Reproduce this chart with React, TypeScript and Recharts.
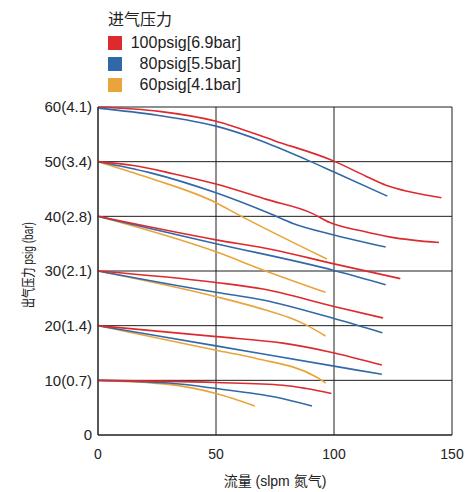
import React from "react";
import { CartesianGrid, Line, LineChart, XAxis, YAxis } from "recharts";

// flow (slpm) vs outlet pressure (psig)
type Pt = { x: number; y: number };
const pts = (rows: number[][]): Pt[] => rows.map(([x, y]) => ({ x, y }));

const red60 = pts([[0, 60], [26, 59.2], [50, 57.4], [75, 53.8], [100, 50.1], [113.7, 47.3], [122, 45.7], [132, 44.5], [145.5, 43.4]]);
const blue60 = pts([[0, 59.8], [25, 58.5], [50, 56.5], [89.7, 50.1], [100, 48.1], [122.6, 43.7]]);

const red50 = pts([[0, 50], [15, 49.3], [31.8, 47.8], [50, 45.9], [71.4, 43.1], [91, 40.5], [98, 38.9], [112, 37.3], [124, 36.2], [144.5, 35.2]]);
const blue50 = pts([[0, 50], [21.9, 48], [50, 44.3], [72.8, 40.5], [82.6, 38.7], [100, 36.6], [121.9, 34.4]]);
const orange50 = pts([[0, 50], [21.9, 47], [50, 42.5], [58.6, 40.5], [97, 32.2]]);

const red40 = pts([[0, 40], [50, 35.7], [74.2, 33.9], [100, 31.3], [128.1, 28.6]]);
const blue40 = pts([[0, 40], [50, 35], [100, 30.1], [121.9, 27.5]]);
const orange40 = pts([[0, 40], [50, 33.5], [69.9, 30.2], [96.4, 26.1]]);

const red30 = pts([[0, 30], [50, 27.9], [69.9, 26.7], [100, 23.5], [120.8, 21.4]]);
const blue30 = pts([[0, 30], [50, 26.1], [69.9, 24.7], [100, 21.3], [120.5, 18.7]]);
const orange30 = pts([[0, 30], [50, 25.3], [71.4, 22.8], [82.6, 21.2], [88.3, 20.1], [96.4, 18.1]]);

const red20 = pts([[0, 20], [50.2, 18], [78.4, 16.8], [98.2, 15.2], [120.3, 12.8]]);
const blue20 = pts([[0, 20], [50, 16.3], [100, 12.6], [120.3, 11.1]]);
const orange20 = pts([[0, 20], [50, 15.5], [67.1, 14], [92.5, 10.6], [96.5, 9.5]]);

const red10 = pts([[0, 10], [50, 9.6], [78.4, 9.1], [88.3, 8.5], [98.9, 7.6]]);
const blue10 = pts([[0, 10], [30, 9.5], [50, 8.5], [75.6, 6.9], [90.7, 5.3]]);
const orange10 = pts([[0, 10], [29, 9.3], [50, 7.6], [66.5, 5.3]]);

const xTicks = [0, 50, 100, 150];
const yTicks = [0, 10, 20, 30, 40, 50, 60];
const yTickLabels: Record<number, string> = {
  0: "0",
  10: "10(0.7)",
  20: "20(1.4)",
  30: "30(2.1)",
  40: "40(2.8)",
  50: "50(3.4)",
  60: "60(4.1)",
};

const RED = "#dc2a2e";
const BLUE = "#3169a8";
const ORANGE = "#e9a43b";

const legendTitle = "进气压力";
const legendItems = [
  { label: "100psig[6.9bar]", color: RED },
  { label: "80psig[5.5bar]", color: BLUE },
  { label: "60psig[4.1bar]", color: ORANGE },
];

const series: { key: string; data: Pt[]; color: string }[] = [
  { key: "r60", data: red60, color: RED },
  { key: "b60", data: blue60, color: BLUE },
  { key: "o50", data: orange50, color: ORANGE },
  { key: "b50", data: blue50, color: BLUE },
  { key: "r50", data: red50, color: RED },
  { key: "o40", data: orange40, color: ORANGE },
  { key: "b40", data: blue40, color: BLUE },
  { key: "r40", data: red40, color: RED },
  { key: "o30", data: orange30, color: ORANGE },
  { key: "b30", data: blue30, color: BLUE },
  { key: "r30", data: red30, color: RED },
  { key: "o20", data: orange20, color: ORANGE },
  { key: "b20", data: blue20, color: BLUE },
  { key: "r20", data: red20, color: RED },
  { key: "o10", data: orange10, color: ORANGE },
  { key: "b10", data: blue10, color: BLUE },
  { key: "r10", data: red10, color: RED },
];

const FONT = '"Liberation Sans", Arial, "Noto Sans CJK SC", sans-serif';
const INK = "#222";
const GRID = "#1e1e1e";

export default function App() {
  return (
    <div
      style={{
        position: "absolute",
        left: 0,
        top: 0,
        width: 475,
        height: 492,
        background: "#fff",
        fontFamily: FONT,
      }}
    >
      <LineChart
        width={475}
        height={492}
        margin={{ top: 107, right: 23, bottom: 7, left: 0 }}
      >
        <CartesianGrid stroke={GRID} strokeWidth={1} />
        <XAxis
          dataKey="x"
          type="number"
          domain={[0, 150]}
          ticks={xTicks}
          height={50}
          tickLine={false}
          tickMargin={8}
          axisLine={{ stroke: GRID }}
          tick={{ fontSize: 14, fill: INK, fontFamily: FONT }}
          allowDuplicatedCategory={false}
          label={{
            content: ({ viewBox }: any) => (
              <text
                x={viewBox.x + viewBox.width / 2}
                y={viewBox.y + 51}
                textAnchor="middle"
                fontSize={14}
                fill={INK}
                fontFamily={FONT}
              >
                流量 (slpm 氮气)
              </text>
            ),
          }}
        />
        <YAxis
          type="number"
          domain={[0, 60]}
          ticks={yTicks}
          width={98}
          tickLine={false}
          tickSize={3}
          tickMargin={3}
          axisLine={{ stroke: GRID }}
          tick={{ fontSize: 15, fill: INK, fontFamily: FONT }}
          tickFormatter={(v: number) => yTickLabels[v] ?? String(v)}
          label={{
            content: ({ viewBox }: any) => {
              const cx = 28;
              const cy = viewBox.y + viewBox.height / 2 - 6;
              return (
                <text
                  x={cx}
                  y={cy}
                  transform={`rotate(-90 ${cx} ${cy})`}
                  textAnchor="middle"
                  dominantBaseline="central"
                  fontSize={14}
                  fill={INK}
                  fontFamily={FONT}
                  textLength={86}
                  lengthAdjust="spacingAndGlyphs"
                >
                  出气压力 psig (bar)
                </text>
              );
            },
          }}
        />
        {series.map((s) => (
          <Line
            key={s.key}
            data={s.data}
            dataKey="y"
            type="monotone"
            stroke={s.color}
            strokeWidth={1.6}
            dot={false}
            activeDot={false}
            isAnimationActive={false}
          />
        ))}
      </LineChart>
      <div
        style={{
          position: "absolute",
          left: 108,
          top: 9,
          fontSize: 16,
          color: INK,
          lineHeight: "21px",
        }}
      >
        <div style={{ height: 23 }}>{legendTitle}</div>
        {legendItems.map((it) => (
          <div
            key={it.label}
            style={{ display: "flex", alignItems: "center", height: 21 }}
          >
            <span
              style={{
                width: 14,
                height: 14,
                background: it.color,
                display: "inline-block",
              }}
            />
            <span style={{ width: 111, textAlign: "right", marginLeft: 8 }}>
              {it.label}
            </span>
          </div>
        ))}
      </div>
    </div>
  );
}
